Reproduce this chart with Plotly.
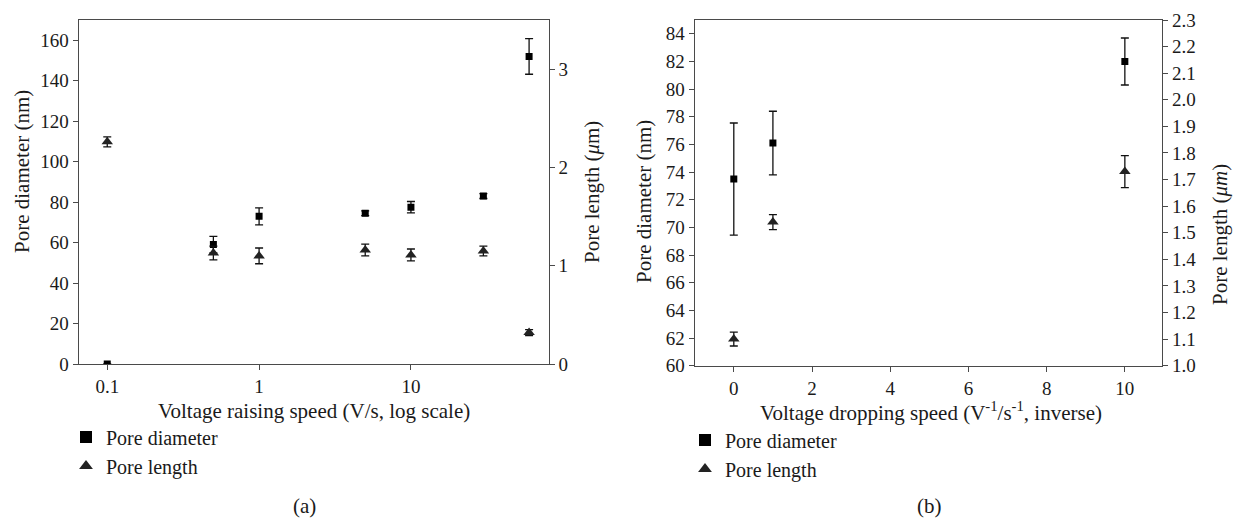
import plotly.graph_objects as go

# ---------- Panel (a) data ----------
speed_a = [0.1, 0.5, 1, 5, 10, 30, 60]
diam_a = [0, 59, 73, 74.5, 77.5, 83, 152]
diam_a_err = [0, 4.1, 4.2, 1.2, 2.8, 1.2, 8.8]
len_a = [2.26, 1.13, 1.10, 1.16, 1.11, 1.15, 0.32]
len_a_err = [0.05, 0.07, 0.08, 0.06, 0.06, 0.05, 0.03]

# ---------- Panel (b) data ----------
speed_b = [0, 1, 10]
diam_b = [73.5, 76.1, 82.0]
diam_b_err = [4.05, 2.3, 1.7]
len_b = [1.10, 1.54, 1.73]
len_b_err = [0.026, 0.028, 0.06]

tick_a_vals = [0.1, 1, 10]
tick_a_text = ["0.1", "1", "10"]

FONT = "Liberation Serif"
TXT = "#1a1a1a"
LINE = "#4a4a4a"
FS = 19      # tick labels
FT = 21      # titles / captions
FL = 20      # legend

W, H = 1233, 518

def px_x(p):
    return p / W

def px_y(p):
    return (H - p) / H

fig = go.Figure()

sq = dict(symbol="square", size=7, color="black")
tri = dict(symbol="triangle-up", size=10, color="#222222")
err = lambda arr: dict(type="data", array=arr, visible=True, color="#111111",
                       thickness=1.3, width=4)

fig.add_trace(go.Scatter(x=speed_a, y=diam_a, mode="markers", marker=sq,
                         error_y=err(diam_a_err), name="Pore diameter",
                         xaxis="x", yaxis="y", legend="legend"))
fig.add_trace(go.Scatter(x=speed_a, y=len_a, mode="markers", marker=tri,
                         error_y=err(len_a_err), name="Pore length",
                         xaxis="x", yaxis="y2", legend="legend"))
fig.add_trace(go.Scatter(x=speed_b, y=diam_b, mode="markers", marker=sq,
                         error_y=err(diam_b_err), name="Pore diameter",
                         xaxis="x2", yaxis="y3", legend="legend2"))
fig.add_trace(go.Scatter(x=speed_b, y=len_b, mode="markers", marker=tri,
                         error_y=err(len_b_err), name="Pore length",
                         xaxis="x2", yaxis="y4", legend="legend2"))

axis_common = dict(showline=True, linecolor=LINE, linewidth=1.3, ticks="outside",
                   ticklen=5, tickwidth=1.2, tickcolor=LINE, showgrid=False,
                   zeroline=False, automargin=False,
                   tickfont=dict(family=FONT, size=FS, color=TXT))

def note(text, x, y, angle=0, size=FT):
    return dict(text=text, x=px_x(x), y=px_y(y), xref="paper", yref="paper",
                xanchor="center", yanchor="middle", textangle=angle,
                showarrow=False, font=dict(family=FONT, size=size, color=TXT))

fig.update_layout(
    width=W, height=H,
    margin=dict(l=0, r=0, t=0, b=0, autoexpand=False),
    paper_bgcolor="white", plot_bgcolor="white",
    font=dict(family=FONT, size=FS, color=TXT),
    showlegend=True,
    xaxis=dict(axis_common, type="log", range=[-1.188, 1.906],
               tickvals=tick_a_vals, ticktext=tick_a_text, mirror=True,
               domain=[px_x(78.7), px_x(548.5)], anchor="y"),
    yaxis=dict(axis_common, range=[0, 170], tickvals=list(range(0, 161, 20)),
               domain=[px_y(364), px_y(20)], anchor="x"),
    yaxis2=dict(axis_common, range=[0, 3.5], tickvals=[0, 1, 2, 3],
                overlaying="y", side="right", anchor="x"),
    xaxis2=dict(axis_common, range=[-1, 10.95], tickvals=list(range(0, 11, 2)),
                mirror=True, domain=[px_x(694.7), px_x(1162)], anchor="y3"),
    yaxis3=dict(axis_common, range=[60, 85], tickvals=list(range(60, 85, 2)),
                domain=[px_y(365.7), px_y(20)], anchor="x2"),
    yaxis4=dict(axis_common, range=[1.0, 2.3],
                tickvals=[round(1.0 + 0.1 * i, 1) for i in range(14)],
                tickformat=".1f", overlaying="y3", side="right", anchor="x2"),
    legend=dict(x=px_x(66), y=px_y(417.5), xanchor="left", yanchor="top",
                itemsizing="constant", bgcolor="rgba(0,0,0,0)",
                font=dict(family=FONT, size=FL, color=TXT), tracegroupgap=0),
    legend2=dict(x=px_x(685), y=px_y(420.5), xanchor="left", yanchor="top",
                 itemsizing="constant", bgcolor="rgba(0,0,0,0)",
                 font=dict(family=FONT, size=FL, color=TXT), tracegroupgap=0),
    annotations=[
        note("Voltage raising speed (V/s, log scale)", 314, 411),
        note("Pore diameter (nm)", 22, 172, -90),
        note("Pore length (<i>μ</i>m)", 592, 192, -90),
        note("Voltage dropping speed (V<sup>-1</sup>/s<sup>-1</sup>, inverse)", 931, 411),
        note("Pore diameter (nm)", 644, 202, -90),
        note("Pore length (<i>μm</i>)", 1220, 235, -90),
        note("(a)", 304, 506),
        note("(b)", 929, 506),
    ],
)

fig.write_html(
    "out.html",
    config={"displayModeBar": False},
    post_script="document.body.style.margin='0';document.body.style.overflow='hidden';",
)
